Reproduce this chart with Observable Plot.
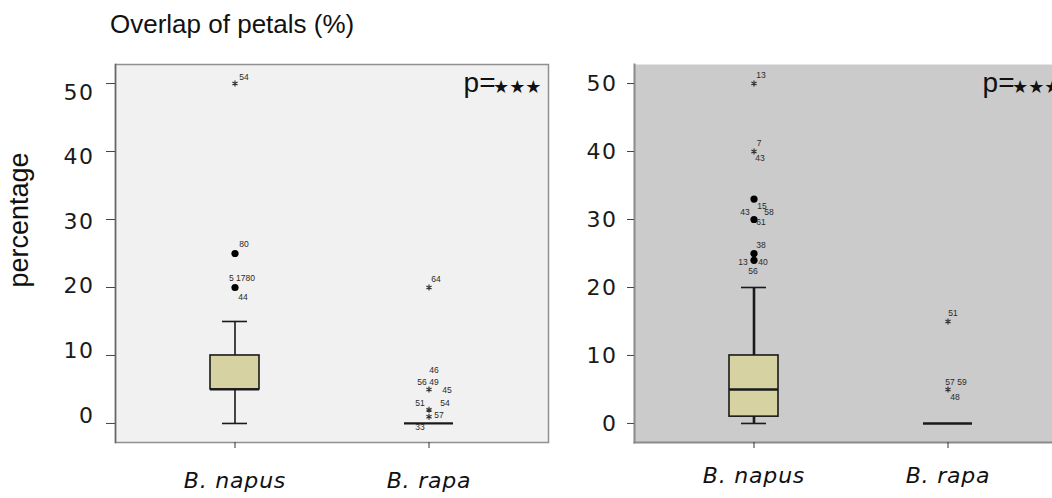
<!DOCTYPE html>
<html>
<head>
<meta charset="utf-8">
<script src="https://cdn.jsdelivr.net/npm/d3@7"></script>
<script src="https://cdn.jsdelivr.net/npm/@observablehq/plot@0.6"></script>
<style>
  html, body { margin: 0; padding: 0; background: #fff; }
  #figure { position: relative; width: 1052px; height: 498px; overflow: hidden; background: #fff;
            font-family: "Liberation Sans", Arial, sans-serif; color: #111; }
  .panel { position: absolute; top: 0; }
  #title { position: absolute; left: 110px; top: 11px; font-size: 26px; line-height: 26px; white-space: nowrap; }
  #ylabel { position: absolute; left: -81px; top: 207px; width: 200px; height: 26px; line-height: 26px;
            text-align: center; font-size: 27px; transform: rotate(-90deg); white-space: nowrap; }
  svg [aria-label="y-axis tick label"] text { letter-spacing: 1.5px; }
  svg [aria-label="x-axis tick label"] text { letter-spacing: 0.8px; }
</style>
</head>
<body>
<div id="figure">
  <div id="title">Overlap of petals (%)</div>
  <div id="ylabel">percentage</div>
</div>
<script>
// ---- shared categories and ticks ----
const species = ["B. napus", "B. rapa"];
const yTicks = [0, 10, 20, 30, 40, 50];

// ---- first panel: box statistics per species ----
const p1Min    = [0, 0];
const p1Q1     = [5, 0];
const p1Median = [5, 0];
const p1Q3     = [10, 0];
const p1Max    = [15, 0];
// outlying cases (circle = outlier, asterisk = extreme)
const p1OutSpecies = ["B. napus", "B. napus", "B. napus", "B. rapa", "B. rapa", "B. rapa", "B. rapa"];
const p1OutValues  = [50, 25, 20, 20, 5, 2, 1];
const p1OutTypes   = ["extreme", "outlier", "outlier", "extreme", "extreme", "extreme", "extreme"];
// case numbers printed next to the outlying points
const p1CaseIds     = ["54", "80", "5 1780", "44", "64", "46", "56 49", "45", "51", "54", "57", "33"];
const p1CaseSpecies = ["B. napus", "B. napus", "B. napus", "B. napus", "B. rapa", "B. rapa", "B. rapa", "B. rapa", "B. rapa", "B. rapa", "B. rapa", "B. rapa"];
const p1CaseValues  = [50, 25, 20, 20, 20, 5, 5, 5, 2, 2, 1, 0];
const p1Significance = "***";

// ---- second panel ----
const p2Min    = [0, 0];
const p2Q1     = [1, 0];
const p2Median = [5, 0];
const p2Q3     = [10, 0];
const p2Max    = [20, 0];
const p2OutSpecies = ["B. napus", "B. napus", "B. napus", "B. napus", "B. napus", "B. napus", "B. rapa", "B. rapa"];
const p2OutValues  = [50, 40, 33, 30, 25, 24, 15, 5];
const p2OutTypes   = ["extreme", "extreme", "outlier", "outlier", "outlier", "outlier", "extreme", "extreme"];
const p2CaseIds     = ["13", "7", "43", "15", "43", "58", "61", "38", "13", "40", "56", "51", "57 59", "48"];
const p2CaseSpecies = ["B. napus", "B. napus", "B. napus", "B. napus", "B. napus", "B. napus", "B. napus", "B. napus", "B. napus", "B. napus", "B. napus", "B. rapa", "B. rapa", "B. rapa"];
const p2CaseValues  = [50, 40, 40, 33, 30, 30, 30, 25, 24, 24, 24, 15, 5, 5];
const p2Significance = "***";

// ---- drawing ----
const BOX_FILL = "#d6d2a2";
const INK = "#1a1a1a";

// small offsets (dx, dy) that keep the case numbers clear of their points
const p1CaseNudge = [[9,-6],[9,-9],[7,-9],[8,10],[7,-8],[5,-19],[-1,-7],[18,1],[-9,-7],[16,-7],[10,-1],[-9,4]];
const p2CaseNudge = [[7,-8],[5,-8],[6,7],[8,7],[-9,-7],[15,-7],[7,3],[7,-8],[-11,2],[9,2],[-1,11],[5,-8],[8,-7],[7,8]];

function drawPanel(cfg) {
  const stats = species.map((s, i) => ({
    species: s, min: cfg.min[i], q1: cfg.q1[i], median: cfg.median[i], q3: cfg.q3[i], max: cfg.max[i]
  }));
  const outliers = cfg.outSpecies.map((s, i) => ({species: s, value: cfg.outValues[i], type: cfg.outTypes[i]}));
  const cases = cfg.caseIds.map((id, i) => ({species: cfg.caseSpecies[i], value: cfg.caseValues[i], id, nudge: cfg.nudge[i]}));
  // significance stars drawn as solid star glyphs
  const stars = cfg.significance.replace(/\*/g, "\u2605");

  const font = "DejaVu Sans";
  const marks = [
    Plot.frame({fill: cfg.background, stroke: null}),
    ...cfg.frameMarks,
    // whiskers
    Plot.ruleX(stats, {x: "species", y1: "min", y2: "max", stroke: INK, strokeWidth: cfg.whiskerWidth}),
    // boxes from the first to the third quartile
    Plot.barY(stats.filter(d => d.q3 > d.q1), {x: "species", y1: "q1", y2: "q3", fill: BOX_FILL, stroke: INK, strokeWidth: 1.6}),
    // medians
    Plot.tickY(stats, {x: "species", y: "median", stroke: INK, strokeWidth: cfg.medianWidth}),
    // whisker caps
    Plot.tickY(stats.filter(d => d.max > d.min), {x: "species", y: "min", stroke: INK, strokeWidth: 1.6, insetLeft: 12, insetRight: 12}),
    Plot.tickY(stats.filter(d => d.max > d.min), {x: "species", y: "max", stroke: INK, strokeWidth: 1.6, insetLeft: 12, insetRight: 12}),
    // outlying points
    Plot.dot(outliers.filter(d => d.type === "outlier"), {x: "species", y: "value", r: 3.6, fill: "#000", stroke: null}),
    Plot.dot(outliers.filter(d => d.type === "extreme"), {x: "species", y: "value", symbol: "asterisk", r: 2.8, stroke: "#333", strokeWidth: 1.2}),
    // case numbers
    ...cases.map(c => Plot.text([c], {x: "species", y: "value", text: "id", dx: c.nudge[0], dy: c.nudge[1],
      fontSize: 8.5, fontFamily: "Liberation Sans", fill: "#2a2a2a"})),
    // significance note: "p=" followed by the stars
    Plot.text(["p="], {text: d => d, frameAnchor: "top-right", textAnchor: "end", lineAnchor: "middle",
      dx: -53, dy: 19, fontSize: 28, fontFamily: "Liberation Sans", fill: "#111"}),
    Plot.text([stars], {text: d => d, frameAnchor: "top-right", textAnchor: "end", lineAnchor: "middle",
      dx: -7, dy: 23, fontSize: 18, fontFamily: font, fill: "#111"}),
    // y ticks
    Plot.axisY(yTicks, {tickSize: cfg.yTickSize, tickFormat: () => "", stroke: "#444", label: null}),
    // y tick labels
    ...yTicks.map(v => Plot.axisY([v], {tickSize: 0, tickPadding: cfg.yLabelPadding, dy: cfg.yLabelShift(v),
      fontSize: 22, fontFamily: font, fill: "#1a1a1a", label: null})),
    // category axis
    Plot.axisX({tickSize: 6, tickPadding: cfg.xLabelPadding, fontSize: 22, fontFamily: font, fontStyle: "italic",
      stroke: "#333", fill: "#111", label: null})
  ];

  return Plot.plot({
    width: 560,
    height: 498,
    marginLeft: 115,
    marginRight: 12,
    marginTop: 64,
    marginBottom: 56,
    style: {background: "none", overflow: "visible", maxWidth: "none"},
    x: {type: "band", domain: species, paddingInner: 0.749, paddingOuter: 0.485, label: null},
    y: {domain: [-2.8, 52.8], label: null},
    marks
  });
}

const fig = document.getElementById("figure");

const panel1 = drawPanel({
  min: p1Min, q1: p1Q1, median: p1Median, q3: p1Q3, max: p1Max,
  outSpecies: p1OutSpecies, outValues: p1OutValues, outTypes: p1OutTypes,
  caseIds: p1CaseIds, caseSpecies: p1CaseSpecies, caseValues: p1CaseValues, nudge: p1CaseNudge,
  significance: p1Significance,
  background: "#f1f1f1",
  frameMarks: [
    Plot.frame({stroke: "#909090", strokeWidth: 1.5}),
    Plot.frame({anchor: "left", stroke: "#666", strokeWidth: 1.5})
  ],
  whiskerWidth: 1.6,
  medianWidth: 2.2,
  yTickSize: 9,
  yLabelPadding: 21,
  // labels of this axis run on a slightly tighter pitch than its ticks
  yLabelShift: v => 9 - (50 - v) * 0.34,
  xLabelPadding: 24
});
panel1.classList.add("panel");
panel1.style.left = "0px";
fig.appendChild(panel1);

const panel2 = drawPanel({
  min: p2Min, q1: p2Q1, median: p2Median, q3: p2Q3, max: p2Max,
  outSpecies: p2OutSpecies, outValues: p2OutValues, outTypes: p2OutTypes,
  caseIds: p2CaseIds, caseSpecies: p2CaseSpecies, caseValues: p2CaseValues, nudge: p2CaseNudge,
  significance: p2Significance,
  background: "#cbcbcb",
  frameMarks: [
    Plot.frame({anchor: "left", stroke: "#8a8a8a", strokeWidth: 2}),
    Plot.frame({anchor: "bottom", stroke: "#8a8a8a", strokeWidth: 2})
  ],
  whiskerWidth: 2.6,
  medianWidth: 2.6,
  yTickSize: 7,
  yLabelPadding: 17,
  yLabelShift: () => 0,
  xLabelPadding: 19
});
panel2.classList.add("panel");
panel2.style.left = "519px";
fig.appendChild(panel2);
</script>
</body>
</html>
